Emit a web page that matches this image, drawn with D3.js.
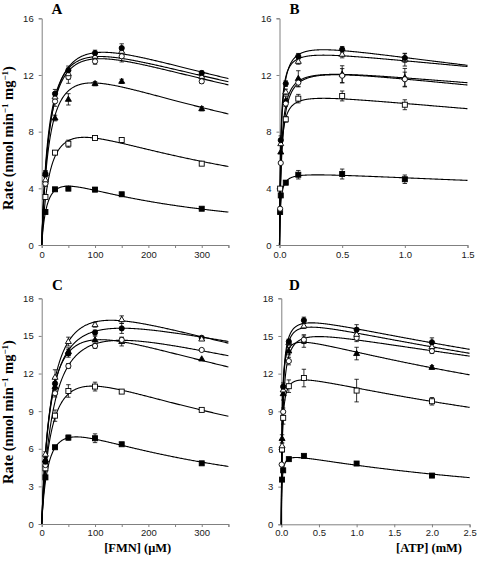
<!DOCTYPE html>
<html>
<head>
<meta charset="utf-8">
<script src="https://cdn.jsdelivr.net/npm/d3@7/dist/d3.min.js"></script>
<style>
  html, body { margin: 0; padding: 0; background: #fff; }
  svg { display: block; }
</style>
</head>
<body>
<svg id="chart" width="477" height="561"></svg>
<script>
// ---------------- DATA ----------------
// Marker order per panel, bottom curve to top curve
const markersA = ["squareFilled", "squareOpen", "triangleFilled", "circleOpen", "triangleOpen", "circleFilled"];
const markersB = ["squareFilled", "squareOpen", "triangleFilled", "circleOpen", "triangleOpen", "circleFilled"];
const markersC = ["squareFilled", "squareOpen", "triangleFilled", "circleOpen", "circleFilled", "triangleOpen"];
const markersD = ["squareFilled", "squareOpen", "triangleFilled", "circleOpen", "triangleOpen", "circleFilled"];

// Panel A: rate vs [FMN] (uM)
const fmnA = [7, 25, 50, 100, 150, 300];
const A_y = [
  [2.33, 3.93, 3.98, 3.91, 3.58, 2.56],
  [3.39, 6.52, 7.15, 7.55, 7.41, 5.74],
  [5.04, 8.96, 10.28, 11.39, 11.55, 9.62],
  [4.33, 10.14, 11.86, 12.96, 13.32, 11.55],
  [4.60, 10.45, 12.09, 13.32, 13.67, 11.90],
  [5.04, 10.68, 12.33, 13.55, 13.90, 12.14]
];
const A_err = [
  [0.1, 0.1, 0.15, 0.15, 0.1, 0.1],
  [0.1, 0.15, 0.25, 0.1, 0.15, 0.1],
  [0.2, 0.2, 0.4, 0.15, 0.15, 0.15],
  [0.2, 0.35, 0.45, 0.2, 0.4, 0.15],
  [0.2, 0.3, 0.4, 0.2, 0.3, 0.15],
  [0.2, 0.3, 0.3, 0.2, 0.3, 0.15]
];
// fitted substrate-inhibition curves: V*S/(Km+S+S^2/Ki)
const A_V  = [5.98, 10.64, 15.1, 16.83, 16.76, 17.68];
const A_Km = [11, 16, 15.2, 15.4, 14.3, 17.25];
const A_Ki = [227, 400, 594, 786, 846, 767];

// Panel B: rate vs [ATP] (mM)
const B_x = [
  [0.005, 0.01, 0.05, 0.15, 0.5, 1.0],
  [0.005, 0.05, 0.15, 0.5, 1.0],
  [0.01, 0.05, 0.15, 0.5, 1.0],
  [0.005, 0.01, 0.05, 0.15, 0.5, 1.0],
  [0.01, 0.05, 0.15, 0.5, 1.0],
  [0.01, 0.05, 0.15, 0.5, 1.0]
];
const B_y = [
  [2.33, 3.5, 4.4, 4.96, 5.01, 4.64],
  [3.98, 8.87, 10.33, 10.52, 9.9],
  [6.56, 10.2, 11.75, 12.05, 11.81],
  [2.56, 5.79, 9.98, 11.46, 11.95, 11.7],
  [7.15, 10.8, 12.96, 13.46, 13.08],
  [7.4, 11.39, 13.32, 13.81, 13.2]
];
const B_err = [
  [0, 0, 0.15, 0.3, 0.35, 0.3],
  [0, 0.2, 0.3, 0.35, 0.35],
  [0, 0.3, 0.55, 0.6, 0.65],
  [0, 0, 0.2, 0.3, 0.5, 0.5],
  [0, 0.2, 0.2, 0.25, 0.45],
  [0.3, 0.2, 0.2, 0.2, 0.3]
];
const B_V  = [5.23, 11.02, 12.86, 13.04, 14.11, 14.8];
const B_Km = [0.0085, 0.0113, 0.0152, 0.0192, 0.0093, 0.01295];
const B_Ki = [10.6, 10.87, 13.3, 10.56, 13.16, 9.46];

// Panel C: rate vs [FMN] (uM)
const fmnC = [7, 25, 50, 100, 150, 300];
const C_y = [
  [3.72, 6.12, 6.89, 6.84, 6.36, 4.84],
  [4.44, 8.64, 10.61, 10.96, 10.56, 9.1],
  [5.1, 10.96, 13.75, 14.68, 14.55, 13.16],
  [4.7, 10.43, 12.6, 14.2, 14.68, 13.88],
  [4.97, 11.2, 13.6, 15.27, 15.6, 14.85],
  [5.56, 11.7, 14.55, 15.9, 16.3, 14.75]
];
const C_err = [
  [0.15, 0.1, 0.2, 0.35, 0.1, 0.1],
  [0.2, 0.45, 0.5, 0.35, 0.15, 0.1],
  [0.2, 0.4, 0.3, 0.3, 0.35, 0.1],
  [0.2, 0.3, 0.2, 0.2, 0.2, 0.1],
  [0.2, 0.5, 0.3, 0.2, 0.4, 0.1],
  [0.2, 0.6, 0.35, 0.2, 0.3, 0.1]
];
const C_V  = [9.75, 15.42, 19.14, 19.28, 19.3, 21.32];
const C_Km = [13.1, 19.1, 16.6, 23.7, 17.7, 20.3];
const C_Ki = [322, 473, 728, 949, 1271, 833];

// Panel D: rate vs [ATP] (mM)
const D_x = [
  [0.01, 0.025, 0.1, 0.3, 1, 2],
  [0.01, 0.025, 0.1, 0.3, 1, 2],
  [0.01, 0.025, 0.1, 0.3, 1, 2],
  [0.005, 0.025, 0.1, 0.3, 1, 2],
  [0.01, 0.025, 0.1, 0.3, 1, 2],
  [0.025, 0.1, 0.3, 1, 2]
];
const D_y = [
  [3.56, 4.3, 5.19, 5.45, 4.84, 3.88],
  [5.96, 8.48, 11.0, 11.65, 10.65, 9.8],
  [6.83, 10.4, 13.8, 14.6, 13.6, 12.5],
  [4.76, 8.96, 13.0, 14.7, 14.85, 13.8],
  [6.25, 10.7, 14.47, 15.8, 15.13, 14.15],
  [10.96, 14.55, 16.25, 15.5, 14.5]
];
const D_err = [
  [0, 0, 0, 0.1, 0.15, 0.1],
  [0.2, 0.5, 0.5, 0.7, 0.9, 0.3],
  [0.3, 0.5, 0.3, 0.5, 0.5, 0.15],
  [0, 0.3, 0.3, 0.3, 0.3, 0.2],
  [0.2, 0.3, 0.2, 0.2, 0.3, 0.2],
  [0.3, 0.2, 0.25, 0.4, 0.35]
];
const D_V  = [5.79, 12.4, 15.46, 16.12, 16.87, 17.23];
const D_Km = [0.00886, 0.01176, 0.00924, 0.01955, 0.0149, 0.01476];
const D_Ki = [4.51, 7.65, 8.48, 12.79, 10.75, 10.84];

// Ticks and labels
const yTicksAB = [0, 4, 8, 12, 16];
const yTicksCD = [0, 3, 6, 9, 12, 15, 18];
const xTicksFMN = [0, 50, 100, 150, 200, 250, 300, 350];
const xLabelsFMN = [0, 100, 200, 300];
const xTicksB = [0, 0.5, 1.0, 1.5];
const xTicksD = [0, 0.5, 1.0, 1.5, 2.0, 2.5];
const panelLetters = ["A", "B", "C", "D"];
const xTitleFMN = "[FMN] (\u03bcM)";
const xTitleATP = "[ATP] (mM)";

// ---------------- DRAWING ----------------
const svg = d3.select("#chart");
const axisColor = "#808080";

const panels = [
  { letter: panelLetters[0], xd: [0, 350], xr: [41.7, 228.4], yd: [0, 16], yr: [245, 18.3],
    xt: xTicksFMN, xfmt: d => xLabelsFMN.includes(d) ? String(d) : "", yt: yTicksAB,
    xs: A_y.map(() => fmnA), ys: A_y, err: A_err, V: A_V, Km: A_Km, Ki: A_Ki, markers: markersA,
    lx: 57, ly: 13.5, pad: 3 },
  { letter: panelLetters[1], xd: [0, 1.5], xr: [279.5, 467.5], yd: [0, 16], yr: [245, 18.3],
    xt: xTicksB, xfmt: d3.format(".1f"), yt: yTicksAB,
    xs: B_x, ys: B_y, err: B_err, V: B_V, Km: B_Km, Ki: B_Ki, markers: markersB,
    lx: 294.5, ly: 13.5, pad: 3 },
  { letter: panelLetters[2], xd: [0, 350], xr: [41.7, 228.4], yd: [0, 18], yr: [524, 298.3],
    xt: xTicksFMN, xfmt: d => xLabelsFMN.includes(d) ? String(d) : "", yt: yTicksCD,
    xs: C_y.map(() => fmnC), ys: C_y, err: C_err, V: C_V, Km: C_Km, Ki: C_Ki, markers: markersC,
    lx: 57.5, ly: 290, pad: 2 },
  { letter: panelLetters[3], xd: [0, 2.5], xr: [281.3, 469.6], yd: [0, 18], yr: [524.3, 298.3],
    xt: xTicksD, xfmt: d3.format(".1f"), yt: yTicksCD,
    xs: D_x, ys: D_y, err: D_err, V: D_V, Km: D_Km, Ki: D_Ki, markers: markersD,
    lx: 294.5, ly: 290, pad: 2 }
];

function drawMarker(g, type, cx, cy) {
  const filled = type.endsWith("Filled");
  const fill = filled ? "#000" : "#fff";
  if (type.startsWith("square")) {
    g.append("rect").attr("x", cx - 2.5).attr("y", cy - 2.5).attr("width", 5).attr("height", 5)
      .attr("fill", fill).attr("stroke", "#000").attr("stroke-width", 0.9);
  } else if (type.startsWith("circle")) {
    g.append("circle").attr("cx", cx).attr("cy", cy).attr("r", 2.6)
      .attr("fill", fill).attr("stroke", "#000").attr("stroke-width", 0.9);
  } else {
    const h = 5.2, w = 6;
    g.append("path")
      .attr("d", `M${cx},${cy - h * 0.62}L${cx + w / 2},${cy + h * 0.38}L${cx - w / 2},${cy + h * 0.38}Z`)
      .attr("fill", fill).attr("stroke", "#000").attr("stroke-width", 0.9);
  }
}

panels.forEach(p => {
  const x = d3.scaleLinear().domain(p.xd).range(p.xr);
  const y = d3.scaleLinear().domain(p.yd).range(p.yr);
  const g = svg.append("g");

  // axes
  const xAxis = d3.axisBottom(x).tickValues(p.xt).tickFormat(p.xfmt).tickSizeOuter(0).tickSize(3).tickPadding(p.pad);
  const gx = g.append("g").attr("transform", `translate(0,${p.yr[0]})`).call(xAxis);
  const yAxis = d3.axisLeft(y).tickValues(p.yt).tickFormat(d3.format("d")).tickSizeOuter(0).tickSize(3).tickPadding(5);
  const gy = g.append("g").attr("transform", `translate(${p.xr[0]},0)`).call(yAxis);
  [gx, gy].forEach(a => {
    a.selectAll("path, line").attr("stroke", axisColor).attr("stroke-width", 1);
    a.selectAll("text").attr("fill", "#1a1a1a").style("font-family", "'Liberation Sans', Arial, sans-serif").style("font-size", "9.5px");
  });

  // fitted curves
  const line = d3.line().x(d => x(d[0])).y(d => y(d[1]));
  p.V.forEach((V, i) => {
    const Km = p.Km[i], Ki = p.Ki[i];
    const pts = d3.range(0, 401).map(k => {
      const s = p.xd[1] * Math.pow(k / 400, 2.5);
      return [s, V * s / (Km + s + s * s / Ki)];
    });
    g.append("path").attr("d", line(pts)).attr("fill", "none").attr("stroke", "#000").attr("stroke-width", 1.1);
  });

  // error bars + markers
  p.ys.forEach((ys, i) => {
    const xs = p.xs[i];
    ys.forEach((v, j) => {
      const e = p.err[i][j];
      if (e > 0.12) {
        const cx = x(xs[j]);
        g.append("line").attr("x1", cx).attr("x2", cx).attr("y1", y(v - e)).attr("y2", y(v + e))
          .attr("stroke", "#000").attr("stroke-width", 0.8);
        [v - e, v + e].forEach(t => {
          g.append("line").attr("x1", cx - 2.2).attr("x2", cx + 2.2).attr("y1", y(t)).attr("y2", y(t))
            .attr("stroke", "#000").attr("stroke-width", 0.8);
        });
      }
    });
  });
  p.ys.forEach((ys, i) => {
    const xs = p.xs[i];
    ys.forEach((v, j) => drawMarker(g, p.markers[i], x(xs[j]), y(v)));
  });

  // panel letter
  g.append("text").attr("x", p.lx).attr("y", p.ly).attr("text-anchor", "middle")
    .style("font-family", "'Liberation Serif', 'Times New Roman', serif").style("font-weight", "bold")
    .style("font-size", "15px").text(p.letter);
});

// axis titles
const serif = "'Liberation Serif', 'Times New Roman', serif";
svg.append("text").attr("x", 137.7).attr("y", 551.5).attr("text-anchor", "middle")
  .style("font-family", serif).style("font-weight", "bold").style("font-size", "12.5px").text(xTitleFMN);
svg.append("text").attr("x", 429).attr("y", 551.5).attr("text-anchor", "middle")
  .style("font-family", serif).style("font-weight", "bold").style("font-size", "12.5px").text(xTitleATP);

function yTitle(cy) {
  const t = svg.append("text").attr("transform", `translate(12.5,${cy}) rotate(-90)`).attr("text-anchor", "middle")
    .style("font-family", serif).style("font-weight", "bold").style("font-size", "14.5px");
  t.append("tspan").text("Rate (nmol min");
  t.append("tspan").attr("dy", -5).style("font-size", "9px").text("\u22121");
  t.append("tspan").attr("dy", 5).text(" mg");
  t.append("tspan").attr("dy", -5).style("font-size", "9px").text("\u22121");
  t.append("tspan").attr("dy", 5).text(")");
}
yTitle(138);
yTitle(412);
</script>
</body>
</html>
